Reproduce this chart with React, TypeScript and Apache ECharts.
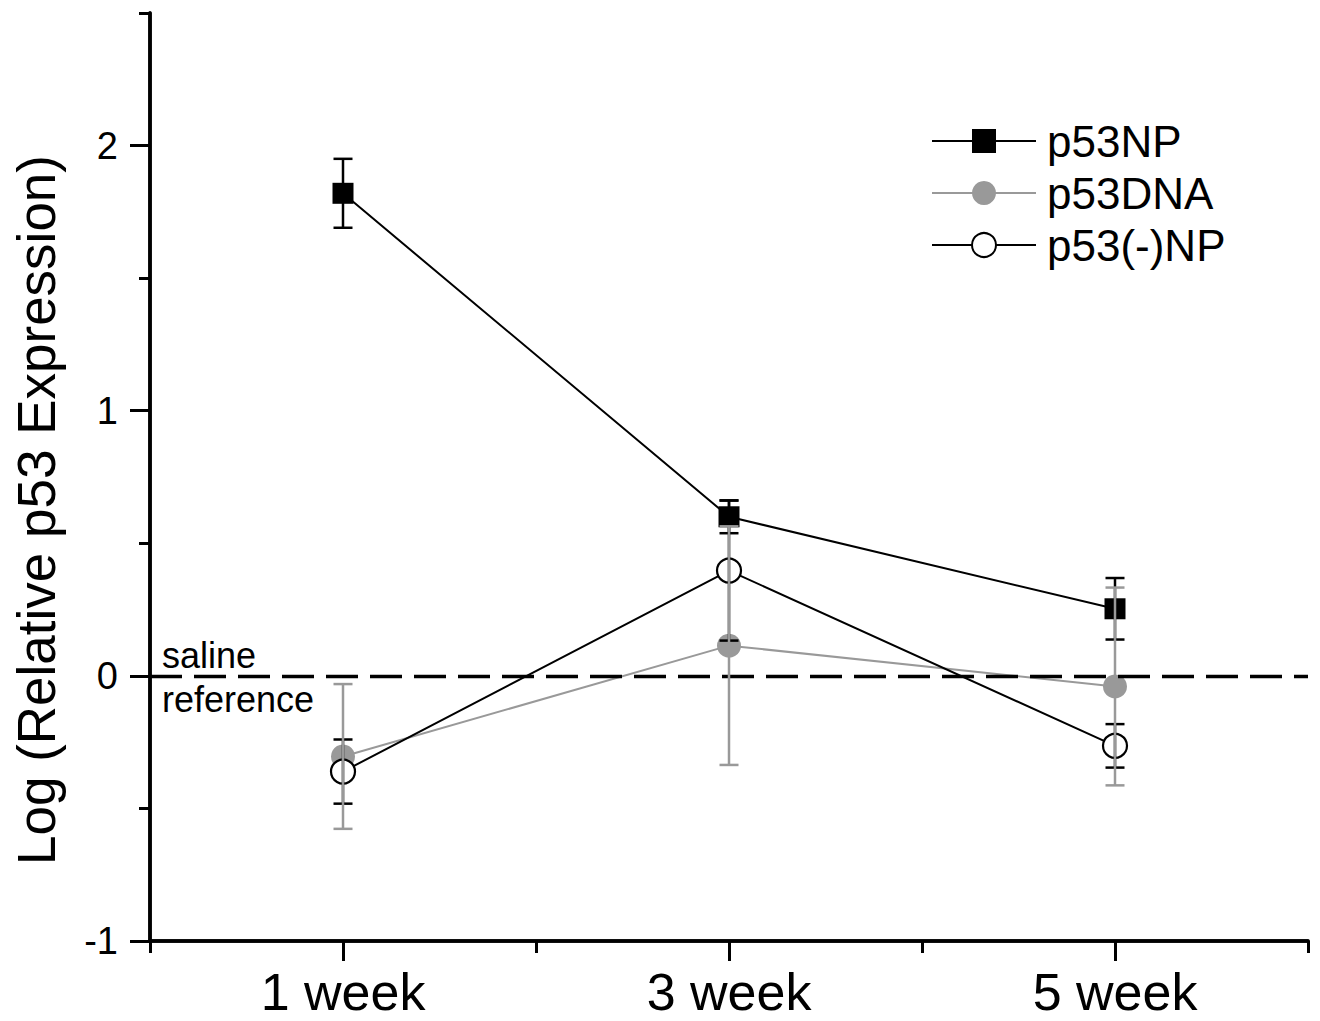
import React, { useEffect, useRef } from "react";
import * as echarts from "echarts";

const categories = ["1 week", "3 week", "5 week"];
const xPositions = [1, 3, 5];
const majorXTicks = [1, 3, 5];
const minorXTicks = [0, 2, 4, 6];
const majorYTicks = [-1, 0, 1, 2];
const minorYTicks = [-0.5, 0.5, 1.5, 2.5];

const p53NP = [1.82, 0.6, 0.253];
const p53NPErr = [0.13, 0.062, 0.116];
const p53DNA = [-0.304, 0.114, -0.04];
const p53DNAErr = [0.273, 0.45, 0.373];
const p53NegNP = [-0.361, 0.397, -0.264];
const p53NegNPErr = [0.121, 0.264, 0.082];

const FONT = "'Liberation Sans', Arial, sans-serif";

function pts(vals: number[]) {
  return vals.map((v, i) => [xPositions[i], v]);
}
function errs(vals: number[], e: number[]) {
  return vals.map((v, i) => [xPositions[i], v - e[i], v + e[i]]);
}

function errorSeries(name: string, data: number[][], color: string, width: number, z: number) {
  return {
    type: "custom",
    name: name + "-err",
    z,
    silent: true,
    xAxisIndex: 0,
    yAxisIndex: 0,
    data,
    renderItem: (params: any, api: any) => {
      const x = api.value(0);
      const lo = api.coord([x, api.value(1)]);
      const hi = api.coord([x, api.value(2)]);
      const hw = 9.5;
      const st = { stroke: color, lineWidth: width, fill: "none" };
      return {
        type: "group",
        children: [
          { type: "line", shape: { x1: lo[0], y1: lo[1], x2: hi[0], y2: hi[1] }, style: st },
          { type: "line", shape: { x1: lo[0] - hw, y1: lo[1], x2: lo[0] + hw, y2: lo[1] }, style: st },
          { type: "line", shape: { x1: hi[0] - hw, y1: hi[1], x2: hi[0] + hw, y2: hi[1] }, style: st },
        ],
      };
    },
  };
}

export default function App() {
  const ref = useRef<HTMLDivElement>(null);
  useEffect(() => {
    if (!ref.current) return;
    const chart = echarts.init(ref.current, undefined, { renderer: "svg" });
    const axisLine = { show: true, onZero: false, lineStyle: { color: "#000", width: 3.5 } };
    const option: any = {
      animation: false,
      backgroundColor: "#fff",
      grid: { left: 150, right: 12, top: 13, bottom: 80, containLabel: false },
      xAxis: [
        {
          type: "value",
          min: 0,
          max: 6,
          position: "bottom",
          axisLine,
          splitLine: { show: false },
          axisTick: { show: true, customValues: majorXTicks, length: 20, lineStyle: { width: 3, color: "#000" } },
          axisLabel: {
            show: true,
            customValues: majorXTicks,
            margin: 25,
            fontSize: 52,
            color: "#000",
            fontFamily: FONT,
            formatter: (v: number) => categories[xPositions.indexOf(v)] ?? "",
          },
        },
        {
          type: "value",
          min: 0,
          max: 6,
          position: "bottom",
          offset: 0,
          axisLine,
          splitLine: { show: false },
          axisTick: { show: true, customValues: minorXTicks, length: 12, lineStyle: { width: 3, color: "#000" } },
          axisLabel: { show: false },
        },
      ],
      yAxis: [
        {
          type: "value",
          min: -1,
          max: 2.5,
          position: "left",
          axisLine,
          splitLine: { show: false },
          axisTick: { show: true, customValues: majorYTicks, length: 20, lineStyle: { width: 3, color: "#000" } },
          axisLabel: {
            show: true,
            customValues: majorYTicks,
            margin: 32,
            fontSize: 38,
            color: "#000",
            fontFamily: FONT,
          },
        },
        {
          type: "value",
          min: -1,
          max: 2.5,
          position: "left",
          offset: 0,
          axisLine,
          splitLine: { show: false },
          axisTick: { show: true, customValues: minorYTicks, length: 11, lineStyle: { width: 3, color: "#000" } },
          axisLabel: { show: false },
        },
      ],
      legend: {
        orient: "vertical",
        left: 926,
        top: 114,
        itemWidth: 104,
        itemHeight: 30,
        itemGap: 8,
        textStyle: { fontSize: 44, color: "#000", fontFamily: FONT, padding: [0, 0, 0, 6] },
        data: ["p53NP", "p53DNA", "p53(-)NP"],
      },
      graphic: [
        {
          type: "text",
          x: 36,
          y: 510,
          rotation: Math.PI / 2,
          style: {
            text: "Log (Relative p53 Expression)",
            fontSize: 53,
            fontFamily: FONT,
            fill: "#000",
            align: "center",
            verticalAlign: "middle",
          },
        },
        {
          type: "text",
          x: 162,
          y: 655,
          style: { text: "saline", fontSize: 36, fontFamily: FONT, fill: "#000", align: "left", verticalAlign: "middle" },
        },
        {
          type: "text",
          x: 162,
          y: 699,
          style: { text: "reference", fontSize: 36, fontFamily: FONT, fill: "#000", align: "left", verticalAlign: "middle" },
        },
      ],
      series: [
        {
          type: "line",
          name: "p53DNA",
          z: 3,
          data: pts(p53DNA),
          symbol: "circle",
          symbolSize: 24,
          lineStyle: { color: "#999", width: 2 },
          itemStyle: { color: "#999", borderWidth: 0 },
          markLine: {
            silent: true,
            symbol: ["none", "none"],
            label: { show: false },
            lineStyle: { color: "#000", width: 3.3, type: [32, 12] },
            data: [{ yAxis: 0 }],
          },
        },
        {
          type: "line",
          name: "p53(-)NP",
          z: 4,
          data: pts(p53NegNP),
          symbol: "circle",
          symbolSize: 24,
          lineStyle: { color: "#000", width: 2 },
          itemStyle: { color: "#fff", borderColor: "#000", borderWidth: 2.2 },
        },
        {
          type: "line",
          name: "p53NP",
          z: 5,
          data: pts(p53NP),
          symbol: "rect",
          symbolSize: 21,
          lineStyle: { color: "#000", width: 2 },
          itemStyle: { color: "#000" },
        },
        errorSeries("p53NP", errs(p53NP, p53NPErr), "#000", 2.5, 6),
        errorSeries("p53(-)NP", errs(p53NegNP, p53NegNPErr), "#000", 2.5, 6),
        errorSeries("p53DNA", errs(p53DNA, p53DNAErr), "#999", 2.5, 7),
      ],
    };
    chart.setOption(option);
    return () => chart.dispose();
  }, []);
  return (
    <div
      ref={ref}
      style={{ position: "fixed", left: 0, top: 0, width: 1320, height: 1021, background: "#fff" }}
    />
  );
}
